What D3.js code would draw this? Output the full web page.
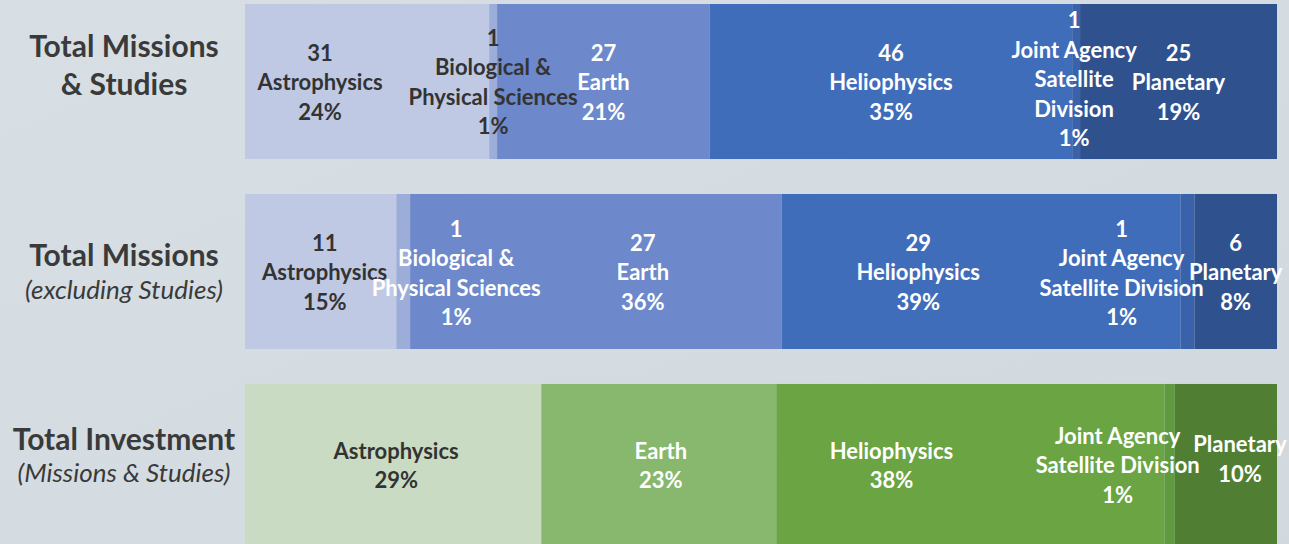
<!DOCTYPE html>
<html>
<head>
<meta charset="utf-8">
<script src="https://cdn.jsdelivr.net/npm/d3@7"></script>
<style>
  html, body { margin: 0; padding: 0; overflow: hidden; background: #d6dee3; }
  svg { display: block; }
</style>
</head>
<body>
<svg id="chart" width="1289" height="544"></svg>
<script>
// ---- data ----
const categories = [
  "Astrophysics",
  "Biological & Physical Sciences",
  "Earth",
  "Heliophysics",
  "Joint Agency Satellite Division",
  "Planetary"
];
const rows = ["missionsStudies", "missions", "investment"];
const rowTitles = ["Total Missions", "Total Missions", "Total Investment"];
const rowSubtitles = ["& Studies", "(excluding Studies)", "(Missions & Studies)"];

// counts of missions and studies per division
const missionsAndStudies = [31, 1, 27, 46, 1, 25];
// counts of missions only
const missionsOnly = [11, 1, 27, 29, 1, 6];
// share of investment, percent
const investmentPercent = [29, 0, 23, 38, 1, 10];

// ---- styling ----
const W = 1289, H = 544;
const blues = ["#bfc9e4", "#9cadda", "#6d89cb", "#3f6dba", "#3a62ab", "#2f528f"];
const greens = ["#c9dcc3", "#c9dcc3", "#87b86d", "#6aa443", "#5f9a3f", "#507f34"];
const darkText = "#333333";
const font = "Lato, 'Open Sans', sans-serif";
const lineStep = 29.5;
const labelSize = 22;

// line breaks of the division names in each row
function nameLines(row, cat) {
  if (cat === 1) return ["Biological &", "Physical Sciences"];
  if (cat === 4) return row === 0 ? ["Joint Agency", "Satellite", "Division"]
                                  : ["Joint Agency", "Satellite Division"];
  return [categories[cat]];
}
// hand placement of a few labels that would otherwise collide
const labelNudge = {
  "0-0": [-47, 0], "0-4": [-2, -3],
  "1-0": [4, 0], "1-1": [53, 1], "1-2": [47, 0], "1-3": [-63, 0], "1-4": [-66, 1],
  "2-0": [3, 3.5], "2-2": [2, 3.5], "2-3": [-79, 3.5], "2-4": [-52, 3.5], "2-5": [14, -3]
};
// title line offsets from the bar's centre
const titleOffsets = [[-37, 1], [-17.5, 17.5], [-23.5, 10.5]];

// ---- layout ----
const svg = d3.select("#chart");
const defs = svg.append("defs");
const bg = defs.append("linearGradient").attr("id", "bg")
  .attr("x1", "0%").attr("y1", "0%").attr("x2", "100%").attr("y2", "100%");
bg.append("stop").attr("offset", "0%").attr("stop-color", "#d7dfe4");
bg.append("stop").attr("offset", "55%").attr("stop-color", "#d5dce1");
bg.append("stop").attr("offset", "100%").attr("stop-color", "#d2d9de");
svg.append("rect").attr("width", W).attr("height", H).attr("fill", "url(#bg)");

const y = d3.scaleBand().domain(rows).range([4, 539]).paddingInner(0.184).paddingOuter(0);

const rowValues = [missionsAndStudies, missionsOnly, investmentPercent];

rows.forEach((rowKey, r) => {
  const values = rowValues[r];
  const total = d3.sum(values);
  const x = d3.scaleLinear().domain([0, total]).range([245, 1277]);
  const palette = r === 2 ? greens : blues;
  const segs = [];
  let acc = 0;
  values.forEach((v, i) => {
    segs.push({ i, v, x0: acc, x1: acc + v });
    acc += v;
  });
  const shown = segs.filter(s => s.v > 0);

  const g = svg.append("g").attr("class", "row-" + rowKey);
  const top = y(rowKey), bw = y.bandwidth();
  const cy = top + bw / 2;

  g.selectAll("rect").data(shown).join("rect")
    .attr("x", d => x(d.x0))
    .attr("y", top)
    .attr("width", d => x(d.x1) - x(d.x0))
    .attr("height", r === 2 ? H - top + 2 : bw)
    .attr("fill", d => palette[d.i]);

  // segment labels
  shown.forEach(d => {
    const pct = r === 2 ? d.v : Math.round(d.v / total * 100);
    const lines = [];
    if (r !== 2) lines.push(String(d.v));
    lines.push(...nameLines(r, d.i));
    lines.push(pct + "%");
    const nudge = labelNudge[r + "-" + d.i] || [0, 0];
    const cx = (x(d.x0) + x(d.x1)) / 2 + nudge[0];
    const ly = cy + nudge[1] - (lines.length - 1) * lineStep / 2;
    const dark = d.i === 0 || (r === 0 && d.i === 1);
    const t = g.append("text")
      .attr("text-anchor", "middle")
      .attr("font-family", font)
      .attr("font-weight", 700)
      .attr("font-size", labelSize)
      .attr("fill", dark ? darkText : "#ffffff");
    lines.forEach((ln, k) => {
      t.append("tspan").attr("x", cx).attr("y", ly + k * lineStep)
        .attr("dominant-baseline", "central").text(ln);
    });
  });

  // row titles
  const tx = 124;
  svg.append("text")
    .attr("x", tx).attr("y", cy + titleOffsets[r][0])
    .attr("text-anchor", "middle").attr("dominant-baseline", "central")
    .attr("font-family", font).attr("font-weight", 700).attr("font-size", 30)
    .attr("fill", "#3a3a3a").text(rowTitles[r]);
  svg.append("text")
    .attr("x", tx).attr("y", cy + titleOffsets[r][1])
    .attr("text-anchor", "middle").attr("dominant-baseline", "central")
    .attr("font-family", font)
    .attr("font-weight", r === 0 ? 700 : 400)
    .attr("font-style", r === 0 ? "normal" : "italic")
    .attr("font-size", r === 0 ? 30 : 26)
    .attr("fill", "#3a3a3a").text(rowSubtitles[r]);
});
</script>
</body>
</html>
